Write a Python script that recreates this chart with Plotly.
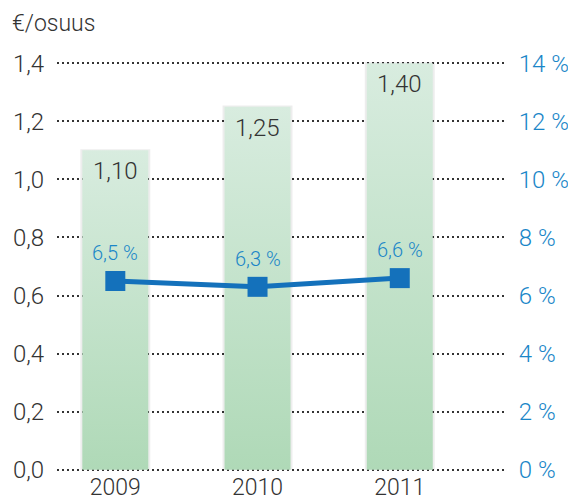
import plotly.graph_objects as go

years = ["2009", "2010", "2011"]
dividend = [1.10, 1.25, 1.40]
dividend_labels = ["1,10", "1,25", "1,40"]
yield_pct = [6.5, 6.3, 6.6]
yield_labels = ["6,5 %", "6,3 %", "6,6 %"]
left_tickvals = [0.0, 0.2, 0.4, 0.6, 0.8, 1.0, 1.2, 1.4]
left_ticktext = ["0,0", "0,2", "0,4", "0,6", "0,8", "1,0", "1,2", "1,4"]
right_tickvals = [0, 2, 4, 6, 8, 10, 12, 14]
right_ticktext = ["0 %", "2 %", "4 %", "6 %", "8 %", "10 %", "12 %", "14 %"]

FONT = "Roboto"
W = 300
DARK = "#333333"
BLUE_TXT = "#1a86c8"
LINE = "#1471bb"
BAR_W = 0.232

xs = list(range(len(years)))
fig = go.Figure()

for i, v in zip(xs, dividend):
    fig.add_trace(go.Scatter(
        x=[i - BAR_W - 0.014, i + BAR_W + 0.014, i + BAR_W + 0.014, i - BAR_W - 0.014, i - BAR_W - 0.014],
        y=[0, 0, v + 0.004, v + 0.004, 0],
        fill="toself", fillcolor="rgba(0,0,0,0.07)", mode="lines",
        line=dict(width=0), hoverinfo="skip", showlegend=False))
    fig.add_trace(go.Scatter(
        x=[i - BAR_W, i + BAR_W, i + BAR_W, i - BAR_W, i - BAR_W],
        y=[0, 0, v, v, 0],
        fill="toself",
        fillgradient=dict(type="vertical",
                          colorscale=[[0, "#afd9b7"], [1, "#d8ecdf"]]),
        mode="lines", line=dict(width=0), hoverinfo="skip", showlegend=False))

fig.add_trace(go.Scatter(
    x=xs, y=yield_pct, yaxis="y2", mode="lines+markers",
    line=dict(color=LINE, width=5),
    marker=dict(symbol="square", size=20, color=LINE),
    showlegend=False, hoverinfo="skip"))

for i, v, t in zip(xs, dividend, dividend_labels):
    fig.add_annotation(x=i, y=v, text=t, showarrow=False, yanchor="top",
                       yshift=-5, font=dict(family=FONT, size=24, color=DARK, weight=W))
for i, v, t in zip(xs, yield_pct, yield_labels):
    fig.add_annotation(x=i, y=v, yref="y2", text=t, showarrow=False,
                       yanchor="bottom", yshift=14,
                       font=dict(family=FONT, size=20, color=BLUE_TXT, weight=W))

fig.add_annotation(x=-47 / 448, y=1 + 54 / 409, xref="paper", yref="paper",
                   xanchor="left", yanchor="top", text="€/osuus", showarrow=False,
                   font=dict(family=FONT, size=23, color=DARK, weight=W))

fig.update_layout(
    width=576, height=504,
    margin=dict(l=49, r=79, t=54, b=41),
    paper_bgcolor="white", plot_bgcolor="white",
    font=dict(family=FONT, color=DARK),
    xaxis=dict(range=[-0.41, 2.74], tickvals=xs, ticktext=years, automargin=False,
               showgrid=False, zeroline=False, showline=False,
               ticks="", tickfont=dict(family=FONT, size=23, color=DARK, weight=W)),
    yaxis=dict(range=[-0.004, 1.404], tickvals=left_tickvals, ticktext=left_ticktext,
               automargin=False,
               showgrid=True, gridcolor="#333333", gridwidth=2, griddash="2px,3px",
               zeroline=False, showline=False,
               ticks="outside", ticklen=7, tickcolor="rgba(0,0,0,0)",
               tickfont=dict(family=FONT, size=24, color=DARK, weight=W)),
    yaxis2=dict(range=[-0.04, 14.04], overlaying="y", side="right", automargin=False,
                tickvals=right_tickvals, ticktext=right_ticktext,
                showgrid=False, zeroline=False, showline=False,
                ticks="outside", ticklen=8, tickcolor="rgba(0,0,0,0)",
                tickfont=dict(family=FONT, size=24, color=BLUE_TXT, weight=W)),
)

fig.write_html("out.html")
